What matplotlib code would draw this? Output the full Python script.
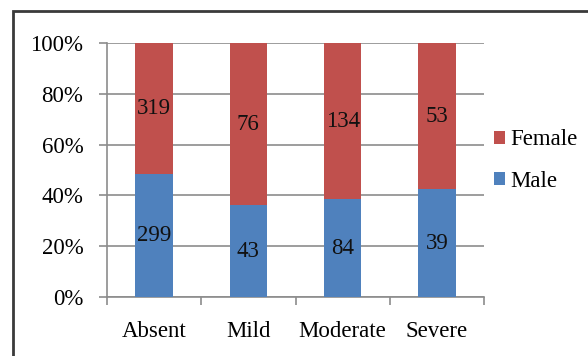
import matplotlib.pyplot as plt
from matplotlib.patches import Rectangle
import numpy as np

# ---------------------------------------------------
# DATA
# ---------------------------------------------------

categories = ["Absent", "Mild", "Moderate", "Severe"]
male = [299, 43, 84, 39]
female = [319, 76, 134, 53]
y_ticks = [0, 20, 40, 60, 80, 100]

# ---------------------------------------------------
# STYLE
# ---------------------------------------------------

plt.rcParams["font.family"] = ["Liberation Serif", "DejaVu Serif"]
FS = 16.5
BLUE = "#4F81BD"
RED = "#C0504D"
GRID = "#8C8C8C"

male = np.array(male, dtype=float)
female = np.array(female, dtype=float)
total = male + female
male_pct = male / total * 100
female_pct = female / total * 100
x = np.arange(len(categories))

fig = plt.figure(figsize=(5.88, 3.56), dpi=100)
ax = fig.add_axes([107 / 588, 1 - 297 / 356, 377 / 588, 254 / 356])

ax.set_axisbelow(True)
ax.yaxis.grid(True, color=GRID, linewidth=1.2)

b_male = ax.bar(x, male_pct, width=0.4, color=BLUE, label="Male", zorder=3)
b_female = ax.bar(x, female_pct, width=0.4, bottom=male_pct, color=RED,
                  label="Female", zorder=3)

for i in range(len(categories)):
    ax.text(x[i], male_pct[i] / 2, f"{int(male[i])}", ha="center",
            va="center", fontsize=FS, color="#111111", zorder=4)
    ax.text(x[i], male_pct[i] + female_pct[i] / 2, f"{int(female[i])}",
            ha="center", va="center", fontsize=FS, color="#111111", zorder=4)

ax.set_xlim(-0.5, len(categories) - 0.5)
ax.set_ylim(0, 100)
ax.set_yticks(y_ticks)
ax.set_yticklabels([f"{v}%" for v in y_ticks], fontsize=FS)
ax.set_xticks(x)
ax.set_xticklabels(categories, fontsize=FS)
ax.set_xticks(np.arange(-0.5, len(categories)), minor=True)

ax.tick_params(axis="x", which="major", length=0, pad=17)
ax.tick_params(axis="x", which="minor", length=6, color=GRID, width=1.2)
ax.tick_params(axis="y", length=6, color=GRID, width=1.2, pad=11)

for s in ["top", "right"]:
    ax.spines[s].set_visible(False)
for s in ["left", "bottom"]:
    ax.spines[s].set_color(GRID)
    ax.spines[s].set_linewidth(1.2)

handles = [b_female, b_male]
fig.legend(handles, ["Female", "Male"], loc="center left",
           bbox_to_anchor=(494 / 588, 1 - 160.5 / 356), frameon=False,
           fontsize=FS, handlelength=0.5, handleheight=0.5,
           handletextpad=0.2, labelspacing=0.9, borderpad=0, borderaxespad=0)

# outer frame
fig.patches.append(Rectangle((13 / 588, -0.1), 1.2, 1 - 11 / 356 + 0.1,
                             transform=fig.transFigure, fill=False,
                             edgecolor="#3A3A3A", linewidth=2))

fig.savefig("out.png", dpi=100)
